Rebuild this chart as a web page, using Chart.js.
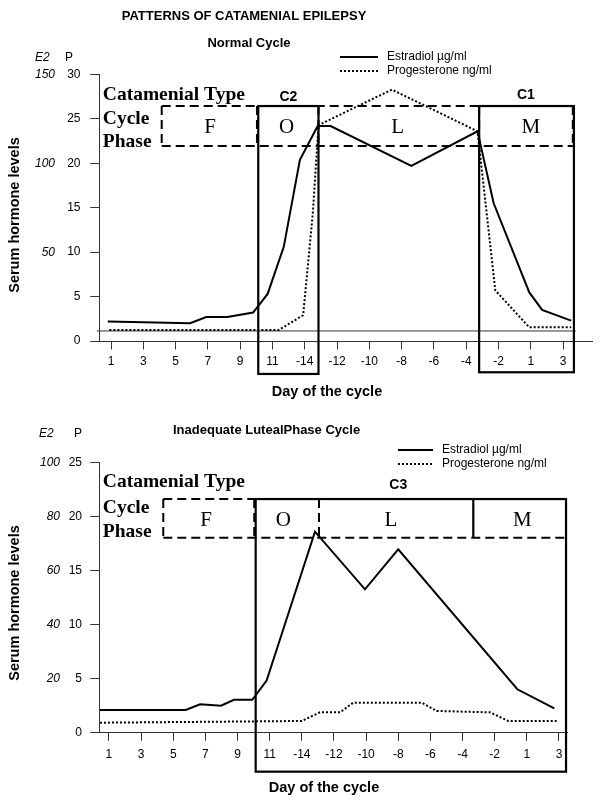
<!DOCTYPE html>
<html><head><meta charset="utf-8">
<script src="https://cdn.jsdelivr.net/npm/chart.js@4.4.1/dist/chart.umd.min.js"></script>
<style>
html,body{margin:0;padding:0;background:#fff;}
canvas{display:block;}
</style></head>
<body>
<canvas id="top" width="601" height="402"></canvas>
<canvas id="bottom" width="601" height="403"></canvas>
<script>
// ---------------- DATA ----------------
// x axis: day-of-cycle tick positions and labels
const xTickPositions = [0, 2, 4, 6, 8, 10, 12, 14, 16, 18, 20, 22, 24, 26, 28];
const xTickLabels = ['1', '3', '5', '7', '9', '11', '-14', '-12', '-10', '-8', '-6', '-4', '-2', '1', '3'];

// Normal cycle (P scale, ng/ml; E2 scale = 5 x P)
const normalEstradiolX = [-0.2, 4.9, 5.9, 7.2, 8.8, 9.7, 10.7, 11.7, 12.8, 13.6, 18.6, 22.7, 23.7, 25.9, 26.7, 28.5];
const normalEstradiolY = [2.2, 2.0, 2.7, 2.7, 3.2, 5.3, 10.6, 20.4, 24.2, 24.2, 19.7, 23.6, 15.5, 5.5, 3.5, 2.3];
const normalProgesteroneX = [-0.1, 10.4, 11.9, 12.5, 12.85, 17.4, 22.7, 23.8, 25.9, 28.5];
const normalProgesteroneY = [1.25, 1.25, 2.9, 14.4, 24.3, 28.3, 23.6, 5.7, 1.55, 1.55];
const normalBaselineX = [-0.88, 28.79];
const normalBaselineY = [1.13, 1.13];

// Inadequate luteal phase cycle (P scale; E2 scale = 4 x P)
const lutealEstradiolX = [-0.56, 4.78, 5.67, 6.97, 7.78, 8.92, 9.81, 12.82, 15.93, 18.0, 25.41, 27.71];
const lutealEstradiolY = [2.07, 2.07, 2.6, 2.47, 3.02, 3.02, 4.79, 18.6, 13.26, 16.97, 3.99, 2.22];
const lutealProgesteroneX = [-0.56, 12.0, 13.13, 14.38, 15.2, 19.46, 20.39, 23.71, 24.85, 27.96];
const lutealProgesteroneY = [0.89, 1.05, 1.85, 1.85, 2.75, 2.75, 1.98, 1.85, 1.05, 1.05];

const phaseLetters = ['F', 'O', 'L', 'M'];
const seriesNames = ['Estradiol µg/ml', 'Progesterone ng/ml'];

// ---------------- HELPERS ----------------
const SANS = "'Liberation Sans', Arial, sans-serif";
const SERIF = "'Liberation Serif', 'Times New Roman', serif";
Chart.defaults.font.family = SANS;
const zip = (xs, ys) => xs.map((x, i) => ({x: x, y: ys[i]}));

function annotationPlugin(o) {
  return {
    id: 'annot',
    afterDraw(chart) {
      const c = chart.ctx, xs = chart.scales.x, ys = chart.scales.y;
      const X = v => xs.getPixelForValue(v), Y = v => ys.getPixelForValue(v);
      const line = (x1, y1, x2, y2) => { c.beginPath(); c.moveTo(x1, y1); c.lineTo(x2, y2); c.stroke(); };
      c.save();
      c.strokeStyle = '#000'; c.fillStyle = '#000'; c.lineCap = 'butt';
      // dashed cycle-phase band
      const b = o.band;
      c.lineWidth = 2; c.setLineDash([9, 5]);
      line(X(b.left), Y(b.top), X(b.right), Y(b.top));
      line(X(b.left), Y(b.bottom), X(b.right), Y(b.bottom));
      [b.left].concat(o.dashedDividers).forEach(d => line(X(d), Y(b.top), X(d), Y(b.bottom)));
      // solid dividers and catamenial boxes
      c.setLineDash([]); c.lineWidth = 2.2;
      o.solidDividers.forEach(d => line(X(d), Y(b.top), X(d), Y(b.bottom)));
      o.boxes.forEach(bx => {
        c.strokeRect(X(bx.left), Y(bx.top), X(bx.right) - X(bx.left), Y(bx.bottom) - Y(bx.top));
        c.font = 'bold 14px ' + SANS; c.textAlign = 'center'; c.textBaseline = 'middle';
        c.fillText(bx.label, X(bx.labelX), Y(bx.labelY));
      });
      // phase letters
      c.font = '21px ' + SERIF; c.textAlign = 'center'; c.textBaseline = 'middle';
      phaseLetters.forEach((t, i) => c.fillText(t, X(o.phaseCenters[i]), Y(o.phaseY)));
      // row headers
      c.font = 'bold 19.5px ' + SERIF; c.textAlign = 'left';
      ['Catamenial Type', 'Cycle', 'Phase'].forEach((t, i) => c.fillText(t, chart.chartArea.left + 3.5, Y(o.headerY[i])));
      // free texts (titles, axis titles, E2/P header)
      o.texts.forEach(t => {
        c.save();
        c.font = t.font; c.textAlign = t.align || 'center'; c.textBaseline = 'middle';
        c.translate(t.x, t.y);
        if (t.rot) c.rotate(t.rot);
        c.fillText(t.text, 0, 0);
        c.restore();
      });
      // legend
      const L = o.legend;
      c.font = '12px ' + SANS; c.textAlign = 'left'; c.textBaseline = 'middle';
      seriesNames.forEach((name, i) => {
        const y = L.y[i];
        c.lineWidth = 2; c.setLineDash(i === 0 ? [] : [2, 2]);
        line(L.x1, y, L.x2, y);
        c.setLineDash([]);
        c.fillText(name, L.tx, y);
      });
      c.restore();
    }
  };
}

function buildChart(id, o) {
  const datasets = [
    {label: seriesNames[0], data: zip(o.estX, o.estY), borderColor: '#000', borderWidth: 2, pointRadius: 0, fill: false, tension: 0},
    {label: seriesNames[1], data: zip(o.proX, o.proY), borderColor: '#000', borderWidth: 2, borderDash: [2, 2], pointRadius: 0, fill: false, tension: 0}
  ];
  if (o.baseX) datasets.push({label: 'baseline', data: zip(o.baseX, o.baseY), borderColor: '#333', borderWidth: 1, pointRadius: 0, clip: false});
  return new Chart(document.getElementById(id), {
    type: 'line',
    data: {datasets: datasets},
    options: {
      responsive: false, animation: false, devicePixelRatio: 1,
      layout: {padding: {left: 0, right: o.padRight, top: o.padTop, bottom: o.padBottom}},
      plugins: {legend: {display: false}, tooltip: {enabled: false}, title: {display: false}},
      scales: {
        x: {
          type: 'linear', min: o.xMin, max: o.xMax,
          afterBuildTicks: s => { s.ticks = xTickPositions.map(v => ({value: v})); },
          afterFit: s => { s.height = 40; },
          ticks: {callback: v => xTickLabels[xTickPositions.indexOf(v)], color: '#000', font: {size: 12}, padding: o.xTickPad, maxRotation: 0, autoSkip: false},
          grid: {drawOnChartArea: false, drawTicks: true, tickLength: 8.5, color: '#333', lineWidth: 1},
          border: {display: true, color: '#333', width: 1}
        },
        y: {
          type: 'linear', position: 'left', min: 0, max: o.pMax, weight: 0,
          afterFit: s => { s.width = o.pWidth; },
          ticks: {stepSize: 5, color: '#000', font: {size: 12}, padding: o.pPad},
          grid: {drawOnChartArea: false, tickLength: 9, color: '#333', lineWidth: 1},
          border: {display: true, color: '#333', width: 1}
        },
        e2: {
          type: 'linear', position: 'left', min: 0, max: o.e2Max, weight: 1,
          afterFit: s => { s.width = o.e2Width; },
          ticks: {stepSize: o.e2Step, callback: v => (v === 0 ? '' : String(v)), color: '#000', font: {size: 12, style: 'italic'}, padding: 3},
          grid: {display: false, drawTicks: false, tickLength: 0},
          border: {display: false}
        }
      }
    },
    plugins: [annotationPlugin(o)]
  });
}

// ---------------- TOP: normal cycle ----------------
buildChart('top', {
  estX: normalEstradiolX, estY: normalEstradiolY,
  proX: normalProgesteroneX, proY: normalProgesteroneY,
  baseX: normalBaselineX, baseY: normalBaselineY,
  xMin: -0.725, xMax: 29.79, pMax: 30, e2Max: 150, e2Step: 50,
  padTop: 74.5, padBottom: 21, padRight: 9, pWidth: 41.3, e2Width: 58, pPad: 9.8, xTickPad: 5,
  band: {left: 3.14, right: 28.6, top: 26.45, bottom: 21.95},
  dashedDividers: [9.04, 12.85, 22.8, 28.6],
  solidDividers: [],
  boxes: [
    {label: 'C2', left: 9.12, right: 12.85, top: 26.45, bottom: -3.71, labelX: 10.99, labelY: 27.5},
    {label: 'C1', left: 22.8, right: 28.67, top: 26.45, bottom: -3.52, labelX: 25.7, labelY: 27.7}
  ],
  phaseCenters: [6.13, 10.88, 17.76, 26.0], phaseY: 24.0,
  headerY: [27.69, 24.96, 22.44],
  texts: [
    {text: 'PATTERNS OF CATAMENIAL EPILEPSY', x: 244, y: 16, font: 'bold 13px ' + SANS},
    {text: 'Normal Cycle', x: 249, y: 43, font: 'bold 13px ' + SANS},
    {text: 'E2', x: 35, y: 58, font: 'italic 12px ' + SANS, align: 'left'},
    {text: 'P', x: 65, y: 58, font: '12px ' + SANS, align: 'left'},
    {text: 'Serum hormone levels', x: 15, y: 215, font: 'bold 14.5px ' + SANS, rot: -Math.PI / 2},
    {text: 'Day of the cycle', x: 327, y: 392, font: 'bold 14.5px ' + SANS}
  ],
  legend: {x1: 340, x2: 378, tx: 387, y: [57, 71]}
});

// ---------------- BOTTOM: inadequate luteal phase ----------------
buildChart('bottom', {
  estX: lutealEstradiolX, estY: lutealEstradiolY,
  proX: lutealProgesteroneX, proY: lutealProgesteroneY,
  xMin: -0.6, xMax: 28.5, pMax: 25, e2Max: 100, e2Step: 20,
  padTop: 60.7, padBottom: 32.7, padRight: 34, pWidth: 36.3, e2Width: 63, pPad: 8.3, xTickPad: 7,
  band: {left: 3.38, right: 28.44, top: 21.63, bottom: 18.05},
  dashedDividers: [9.04, 13.07],
  solidDividers: [22.67],
  boxes: [
    {label: 'C3', left: 9.13, right: 28.44, top: 21.63, bottom: -3.65, labelX: 18.0, labelY: 22.93}
  ],
  phaseCenters: [6.04, 10.85, 17.55, 25.72], phaseY: 19.66,
  headerY: [23.24, 20.77, 18.6],
  texts: [
    {text: 'Inadequate LutealPhase Cycle', x: 173, y: 28, font: 'bold 13px ' + SANS, align: 'left'},
    {text: 'E2', x: 39, y: 32, font: 'italic 12px ' + SANS, align: 'left'},
    {text: 'P', x: 74, y: 32, font: '12px ' + SANS, align: 'left'},
    {text: 'Serum hormone levels', x: 15, y: 201, font: 'bold 14.5px ' + SANS, rot: -Math.PI / 2},
    {text: 'Day of the cycle', x: 324, y: 386.3, font: 'bold 14.5px ' + SANS}
  ],
  legend: {x1: 398, x2: 433, tx: 442, y: [48, 62]}
});
</script>
</body></html>
